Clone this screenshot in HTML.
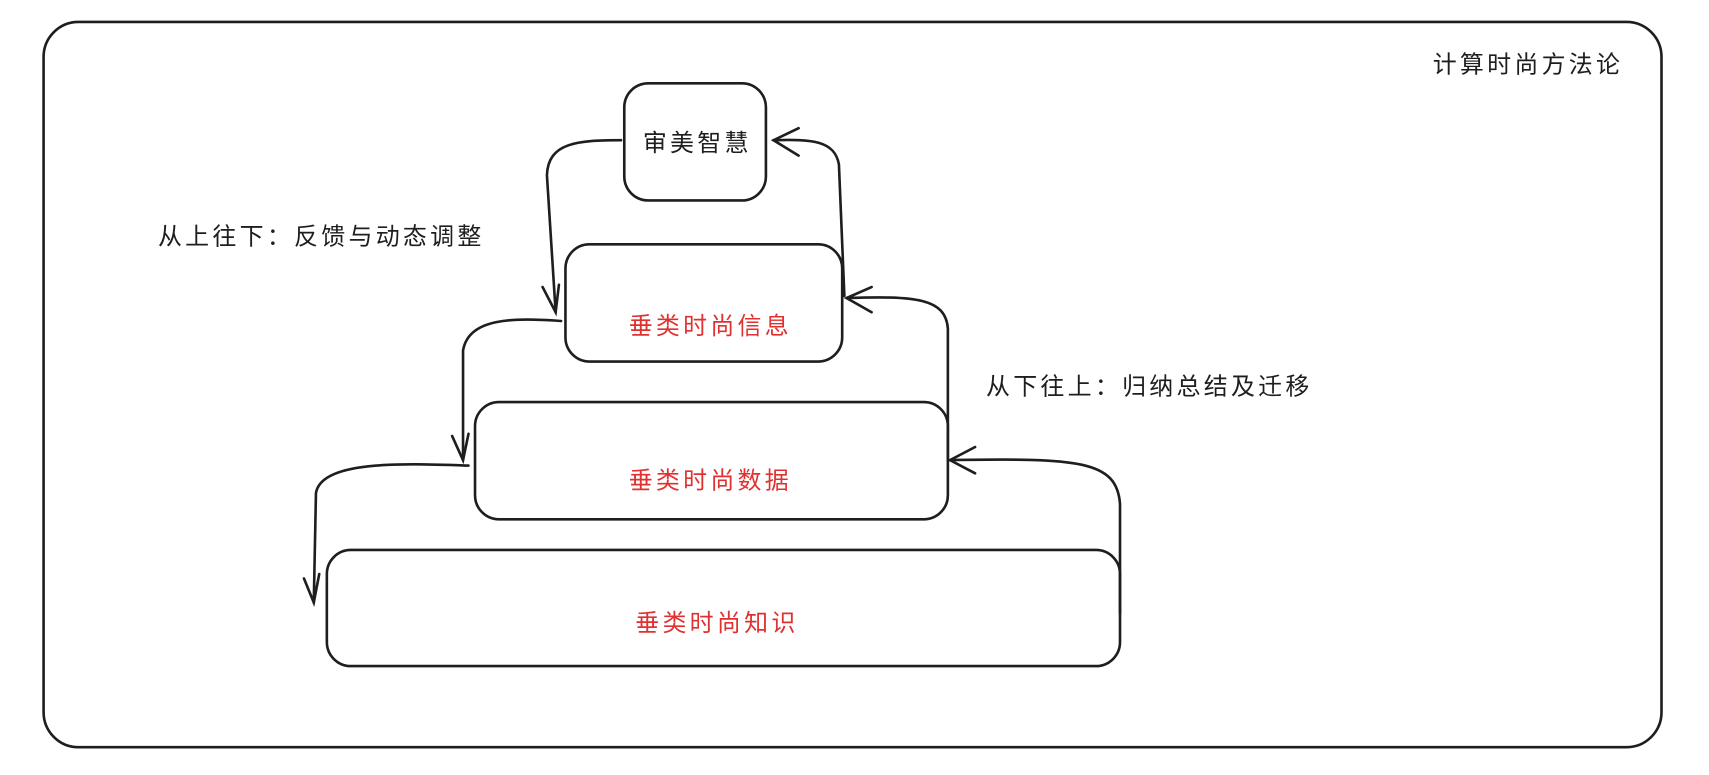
<!DOCTYPE html>
<html><head><meta charset="utf-8"><style>
html,body{margin:0;padding:0;background:#fff;}
svg{display:block;}
text{font-family:"Liberation Sans","Noto Sans CJK SC",sans-serif;font-size:22px;letter-spacing:3px;}
</style></head><body>
<svg width="1709" height="775" viewBox="0 0 1568.6 707.4" preserveAspectRatio="none" xmlns="http://www.w3.org/2000/svg">
<g fill="none" stroke="#1e1e1e" stroke-width="2.4" stroke-linecap="round">
<rect x="40" y="20" width="1485" height="662" rx="32"/>
<rect x="573" y="76" width="130" height="107" rx="22"/>
<rect x="519" y="223" width="254" height="107" rx="22"/>
<rect x="436" y="367" width="434" height="107" rx="22"/>
<rect x="300" y="502" width="728" height="106" rx="22"/>
<path d="M570 128 C530 128 503 130 502 160 L510 285"/>
<path d="M498 262 L510 285 L513 260"/>
<path d="M515 293 C470 290 430 290 425 320 L425 420"/>
<path d="M415 398 L425 420 L430 396"/>
<path d="M430 425 C370 423 295 420 290 450 L288 550"/>
<path d="M279 528 L288 550 L293 524"/>
<path d="M1028 560 L1028 460 C1025 420 990 418 872 420"/>
<path d="M895 408 L872 420 L895 432"/>
<path d="M870 420 L870 300 C868 272 840 270 777 272"/>
<path d="M800 262 L777 272 L800 285"/>
<path d="M775 270 L770 150 C766 128 745 127 710 128"/>
<path d="M733 117 L710 128 L733 142"/>
</g>
<text x="1315" y="66" fill="#1e1e1e">计算时尚方法论</text>
<text x="640" y="138" fill="#1e1e1e" text-anchor="middle">审美智慧</text>
<text x="145" y="223" fill="#1e1e1e">从上往下：反馈与动态调整</text>
<text x="905" y="360" fill="#1e1e1e">从下往上：归纳总结及迁移</text>
<text x="652" y="305" fill="#e03131" text-anchor="middle">垂类时尚信息</text>
<text x="652" y="446" fill="#e03131" text-anchor="middle">垂类时尚数据</text>
<text x="658" y="576" fill="#e03131" text-anchor="middle">垂类时尚知识</text>
</svg>
</body></html>
